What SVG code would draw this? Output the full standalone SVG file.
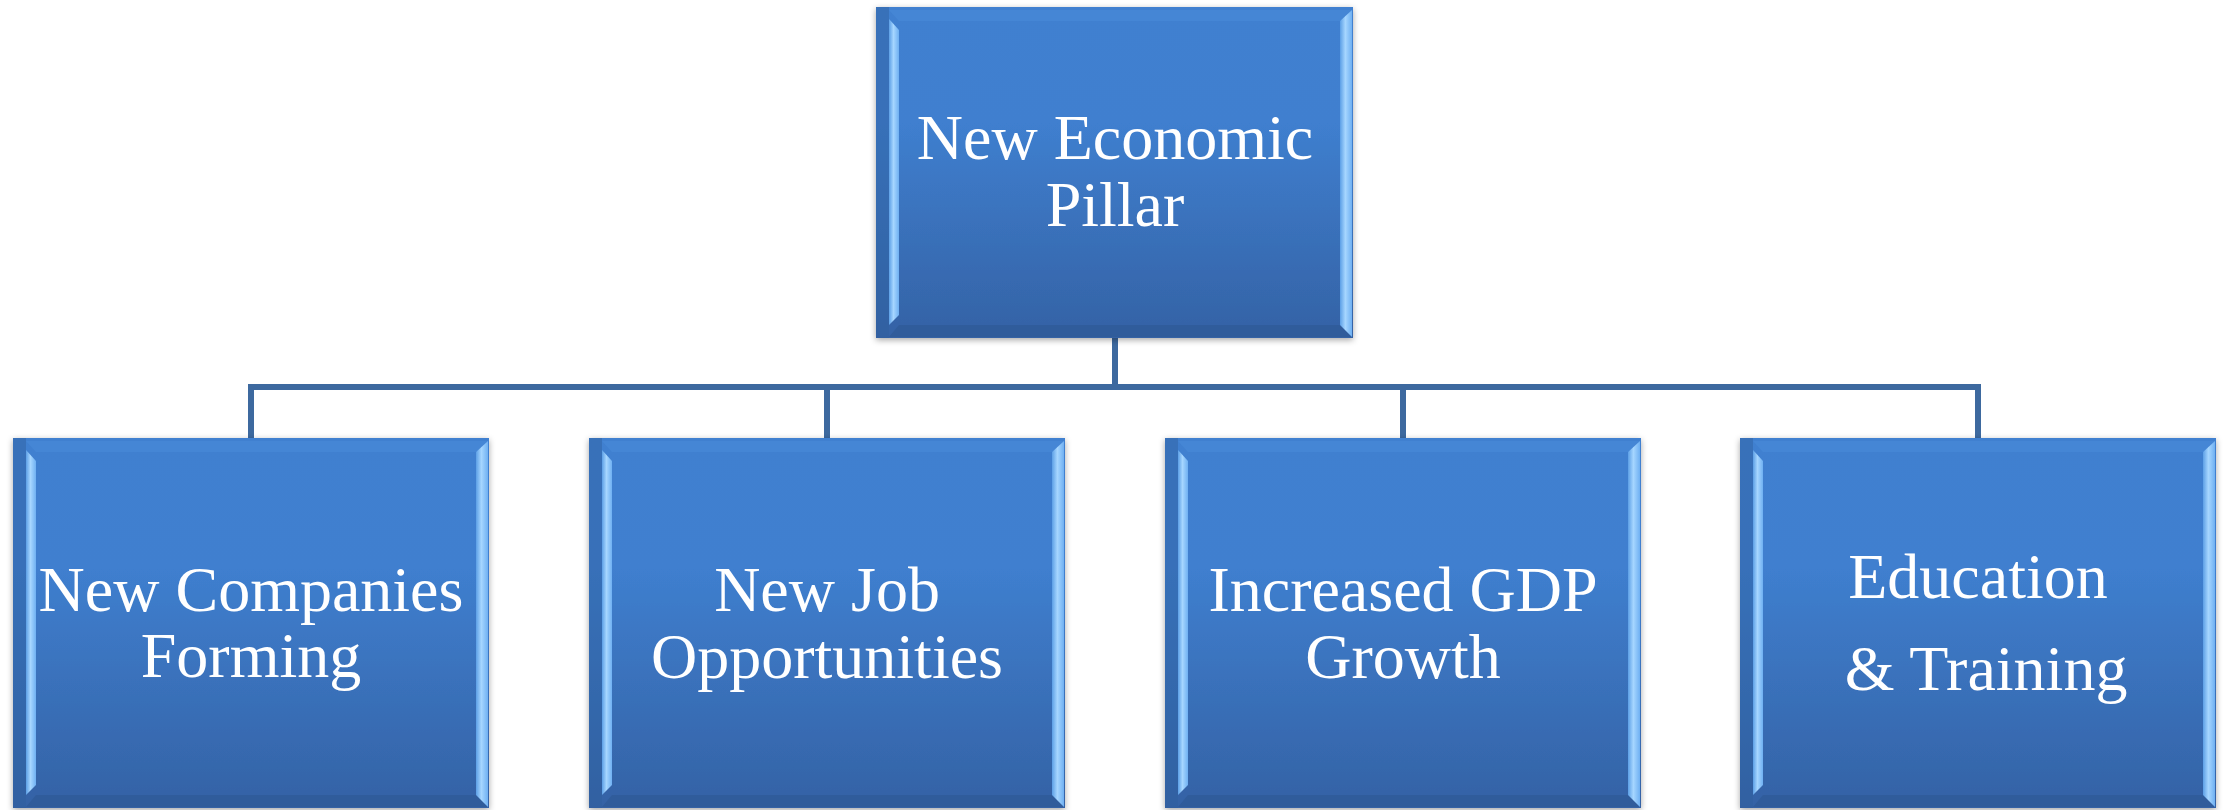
<svg xmlns="http://www.w3.org/2000/svg" width="2224" height="810" viewBox="0 0 2224 810">
<defs>
<linearGradient id="fill" x1="0" y1="0" x2="0" y2="1">
<stop offset="0" stop-color="#4080d0"/>
<stop offset="0.35" stop-color="#3f7fcf"/>
<stop offset="1" stop-color="#3462a5"/>
</linearGradient>
<linearGradient id="lite" x1="0" y1="0" x2="1" y2="0">
<stop offset="0" stop-color="#5c9fe6"/>
<stop offset="0.45" stop-color="#a6d6ff"/>
<stop offset="1" stop-color="#6fb0f2"/>
</linearGradient>
<filter id="sh" x="-5%" y="-5%" width="110%" height="110%">
<feDropShadow dx="0" dy="2" stdDeviation="3" flood-color="#000" flood-opacity="0.35"/>
</filter>
<style>
.box{fill:url(#fill);filter:url(#sh)}
.edge{fill:#2f5f9e;opacity:0.45}
.bev{fill:url(#lite)}
.top{fill:#4a8bd8;opacity:0.6}
.bot{fill:#2c568f;opacity:0.5}
.t{font-family:"Liberation Serif","Times New Roman",serif;font-size:64px;fill:#fff;text-anchor:middle}
.c{stroke:#3d699f;stroke-width:6;fill:none}
</style>
</defs>
<rect width="2224" height="810" fill="#fff"/>
<g id="connectors">
<path class="c" d="M1115 338V387M251 387H1978M251 384V438M827 384V438M1403 384V438M1978 384V438"/>
</g>
<g id="n0">
<rect class="box" x="876" y="7" width="477" height="331"/>
<rect class="edge" x="876" y="7" width="13" height="331"/>
<polygon class="top" points="889,10 1352,10 1340,21 899,21"/>
<polygon class="bot" points="889,337 1352,337 1340,325 899,325"/>
<polygon class="bev" points="889,19 899,30 899,315 889,325"/>
<polygon class="bev" points="1352,10 1340,21 1340,325 1352,337"/>
<text class="t" x="1115" y="159">New Economic</text>
<text class="t" x="1115" y="226">Pillar</text>
</g>
<g id="n1">
<rect class="box" x="13" y="438" width="476" height="370"/>
<rect class="edge" x="13" y="438" width="13" height="370"/>
<polygon class="top" points="26,441 488,441 476,452 36,452"/>
<polygon class="bot" points="26,807 488,807 476,795 36,795"/>
<polygon class="bev" points="26,450 36,461 36,785 26,795"/>
<polygon class="bev" points="488,441 476,452 476,795 488,807"/>
<text class="t" x="251" y="611">New Companies</text>
<text class="t" x="251" y="677">Forming</text>
</g>
<g id="n2">
<rect class="box" x="589" y="438" width="476" height="370"/>
<rect class="edge" x="589" y="438" width="13" height="370"/>
<polygon class="top" points="602,441 1064,441 1052,452 612,452"/>
<polygon class="bot" points="602,807 1064,807 1052,795 612,795"/>
<polygon class="bev" points="602,450 612,461 612,785 602,795"/>
<polygon class="bev" points="1064,441 1052,452 1052,795 1064,807"/>
<text class="t" x="827" y="611">New Job</text>
<text class="t" x="827" y="678">Opportunities</text>
</g>
<g id="n3">
<rect class="box" x="1165" y="438" width="476" height="370"/>
<rect class="edge" x="1165" y="438" width="13" height="370"/>
<polygon class="top" points="1178,441 1640,441 1628,452 1188,452"/>
<polygon class="bot" points="1178,807 1640,807 1628,795 1188,795"/>
<polygon class="bev" points="1178,450 1188,461 1188,785 1178,795"/>
<polygon class="bev" points="1640,441 1628,452 1628,795 1640,807"/>
<text class="t" x="1403" y="611">Increased GDP</text>
<text class="t" x="1403" y="678">Growth</text>
</g>
<g id="n4">
<rect class="box" x="1740" y="438" width="476" height="370"/>
<rect class="edge" x="1740" y="438" width="13" height="370"/>
<polygon class="top" points="1753,441 2215,441 2203,452 1763,452"/>
<polygon class="bot" points="1753,807 2215,807 2203,795 1763,795"/>
<polygon class="bev" points="1753,450 1763,461 1763,785 1753,795"/>
<polygon class="bev" points="2215,441 2203,452 2203,795 2215,807"/>
<text class="t" x="1978" y="598">Education</text>
<text class="t" x="1986" y="690">&amp; Training</text>
</g>
</svg>
